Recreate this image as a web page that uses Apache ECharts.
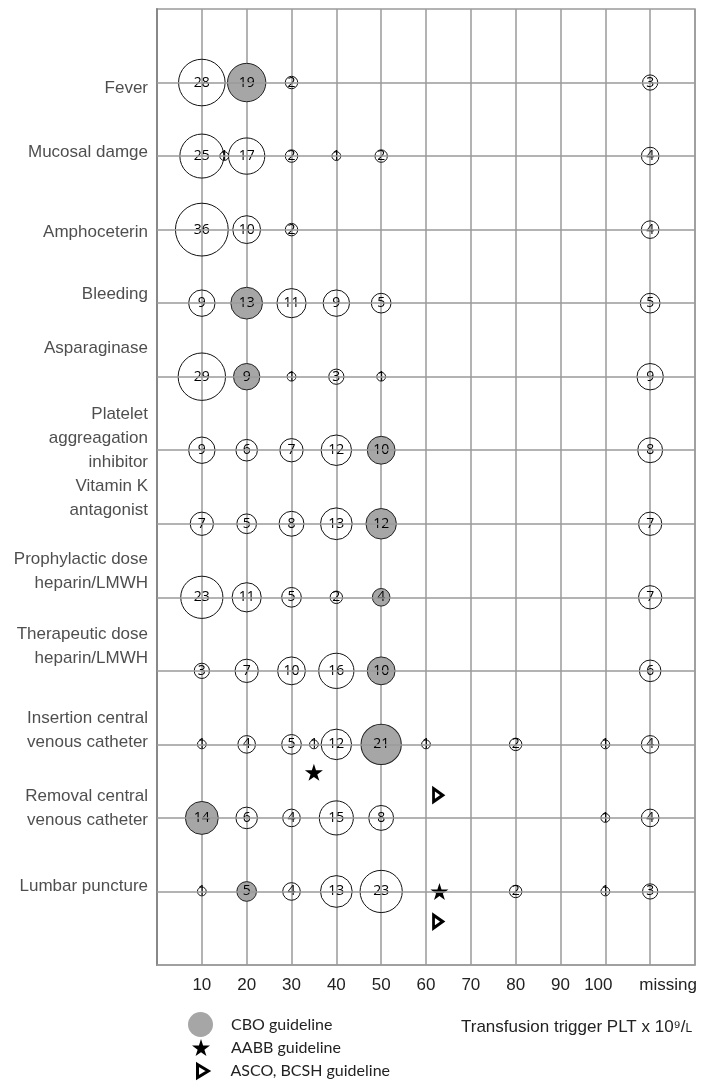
<!DOCTYPE html>
<html>
<head>
<meta charset="utf-8">
<script src="https://cdn.jsdelivr.net/npm/echarts@6/dist/echarts.min.js"></script>
<style>
html,body{margin:0;padding:0;background:#fff;}
#chart{width:707px;height:1081px;}
</style>
</head>
<body>
<div id="chart"></div>
<script>
// ---------- data ----------
const categories = [
  'Fever',
  'Mucosal damge',
  'Amphoceterin',
  'Bleeding',
  'Asparaginase',
  'Platelet\naggreagation\ninhibitor',
  'Vitamin K\nantagonist',
  'Prophylactic dose\nheparin/LMWH',
  'Therapeutic dose\nheparin/LMWH',
  'Insertion central\nvenous catheter',
  'Removal central\nvenous catheter',
  'Lumbar puncture'
];
const xTickLabels = [10, 20, 30, 40, 50, 60, 70, 80, 90, 100, 'missing'];
const missingPosition = 110;

// [transfusion trigger, number of respondents]
const fever        = [[10, 28], [20, 19], [30, 2], ['missing', 3]];
const mucosal      = [[10, 25], [15, 1], [20, 17], [30, 2], [40, 1], [50, 2], ['missing', 4]];
const amphotericin = [[10, 36], [20, 10], [30, 2], ['missing', 4]];
const bleeding     = [[10, 9], [20, 13], [30, 11], [40, 9], [50, 5], ['missing', 5]];
const asparaginase = [[10, 29], [20, 9], [30, 1], [40, 3], [50, 1], ['missing', 9]];
const plateletInh  = [[10, 9], [20, 6], [30, 7], [40, 12], [50, 10], ['missing', 8]];
const vitaminK     = [[10, 7], [20, 5], [30, 8], [40, 13], [50, 12], ['missing', 7]];
const prophylactic = [[10, 23], [20, 11], [30, 5], [40, 2], [50, 4], ['missing', 7]];
const therapeutic  = [[10, 3], [20, 7], [30, 10], [40, 16], [50, 10], ['missing', 6]];
const insertionCVC = [[10, 1], [20, 4], [30, 5], [35, 1], [40, 12], [50, 21], [60, 1], [80, 2], [100, 1], ['missing', 4]];
const removalCVC   = [[10, 14], [20, 6], [30, 4], [40, 15], [50, 8], [100, 1], ['missing', 4]];
const lumbar       = [[10, 1], [20, 5], [30, 4], [40, 13], [50, 23], [80, 2], [100, 1], ['missing', 3]];
const rowsData = [fever, mucosal, amphotericin, bleeding, asparaginase, plateletInh, vitaminK,
                  prophylactic, therapeutic, insertionCVC, removalCVC, lumbar];

// trigger recommended by the CBO guideline per row (null = none)
const cboTrigger = [20, null, null, 20, 20, 50, 50, 50, 50, 50, 10, 20];

// guideline markers [trigger, row position] (row position: Lumbar puncture = 1 ... Fever = 12)
const aabbGuideline = [[35, 2.62], [63, 1.0]];
const ascoBcshGuideline = [[62.7, 2.31], [62.7, 0.59]];

// ---------- layout tweaks (not data): vertical nudge of each row's name, px ----------
const rowLabelNudge = [6, -4, 3, -9, -28, -12, -25, -26, -25, -14, -10, -5];

// ---------- build ----------
const n = categories.length;
const rowY = i => n - i;
const xPos = t => (t === 'missing' ? missingPosition : t);

const plainPts = [], cboPts = [];
rowsData.forEach((row, i) => {
  row.forEach(([t, c]) => {
    const pt = [xPos(t), rowY(i), c];
    if (cboTrigger[i] !== null && t === cboTrigger[i]) cboPts.push(pt); else plainPts.push(pt);
  });
});

const sizeFn = v => 8.8 * Math.sqrt(v[2]);
const bubbleLabel = {
  show: true, position: 'inside', formatter: p => p.value[2],
  color: '#000', fontFamily: 'Open Sans', fontSize: 14, opacity: 1
};
const STAR = 'path://M50,0 L61,35 L98,35 L68,57 L79,91 L50,70 L21,91 L32,57 L2,35 L39,35 Z';
const TRI = 'path://M0,0 L10,6 L0,12 Z';

const nameData = categories.map((c, i) => ({
  value: [0, rowY(i)], name: c,
  label: { offset: [0, rowLabelNudge[i]] }
}));

const legendText = { fontFamily: 'Lato', fontSize: 16, color: '#222' };

const chart = echarts.init(document.getElementById('chart'), null, { renderer: 'canvas' });
chart.setOption({
  animation: false,
  grid: { left: 157, right: 12, top: 9, bottom: 116, show: true, borderColor: '#9a9a9a', borderWidth: 1.5 },
  xAxis: {
    type: 'value', min: 0, max: 120, interval: 10,
    axisLine: { show: true, lineStyle: { color: '#9a9a9a', width: 1.5 } },
    axisTick: { show: false },
    splitLine: { show: true, lineStyle: { color: '#9a9a9a', width: 1.5 } },
    axisLabel: {
      margin: 12, color: '#222', fontFamily: 'Liberation Sans', fontSize: 17,
      formatter: v => {
        if (v === missingPosition) return '{m|' + xTickLabels[xTickLabels.length - 1] + '}';
        if (v === 100) return '{h|100}';
        return xTickLabels.indexOf(v) >= 0 ? String(v) : '';
      },
      rich: {
        m: { fontFamily: 'Liberation Sans', fontSize: 17, color: '#222', padding: [0, 0, 0, 36] },
        h: { fontFamily: 'Liberation Sans', fontSize: 17, color: '#222', padding: [0, 14, 0, 0] }
      }
    }
  },
  yAxis: {
    type: 'value', min: 0, max: 13, interval: 1,
    axisLine: { show: true, lineStyle: { color: '#888', width: 2 } },
    axisTick: { show: false }, axisLabel: { show: false }, splitLine: { show: false }
  },
  title: {
    text: 'Transfusion trigger PLT x 10⁹/{s|L}',
    left: 461, top: 1019, padding: 0,
    textStyle: {
      fontFamily: 'Liberation Sans', fontSize: 17, fontWeight: 'normal', color: '#222',
      rich: { s: { fontFamily: 'Liberation Sans', fontSize: 12, color: '#222', padding: [3, 0, 0, 0] } }
    }
  },
  legend: [
    { data: [{ name: 'CBO guideline', icon: 'circle', itemStyle: { borderWidth: 0, color: '#a6a6a6' } }],
      left: 188, top: 1012, padding: 0, itemWidth: 25, itemHeight: 25, selectedMode: false,
      textStyle: Object.assign({ padding: [0, 0, 0, 13] }, legendText) },
    { data: [{ name: 'AABB guideline' }],
      left: 192, top: 1039, padding: 0, itemWidth: 18, itemHeight: 18, selectedMode: false,
      textStyle: Object.assign({ padding: [0, 0, 0, 16] }, legendText) },
    { data: [{ name: 'ASCO, BCSH guideline', itemStyle: { color: '#fff', borderColor: '#000', borderWidth: 3 } }],
      left: 196, top: 1063, padding: 0, itemWidth: 11, itemHeight: 13, selectedMode: false,
      textStyle: Object.assign({ padding: [0, 0, 0, 17] }, legendText) }
  ],
  series: [
    {
      name: 'rows', type: 'scatter', z: 1, silent: true,
      data: nameData, symbolSize: 0.01, itemStyle: { color: 'rgba(0,0,0,0)' },
      label: {
        show: true, position: 'left', distance: 9, formatter: p => p.name,
        color: '#222', fontFamily: 'Liberation Sans', fontSize: 17, lineHeight: 24,
        align: 'right', verticalAlign: 'middle'
      },
      markLine: {
        silent: true, symbol: ['none', 'none'], label: { show: false },
        lineStyle: { color: '#9a9a9a', width: 1.5, type: 'solid' },
        data: categories.map((c, i) => ({ yAxis: rowY(i) }))
      }
    },
    {
      name: 'Survey', type: 'scatter', z: 3, silent: true,
      data: plainPts, symbolSize: sizeFn,
      itemStyle: { color: 'rgba(255,255,255,0)', borderColor: '#111', borderWidth: 1, opacity: 1 },
      label: bubbleLabel
    },
    {
      name: 'CBO guideline', type: 'scatter', z: 3, silent: true,
      data: cboPts, symbolSize: sizeFn,
      itemStyle: { color: '#a6a6a6', borderColor: '#222', borderWidth: 1, opacity: 1 },
      label: bubbleLabel
    },
    {
      name: 'AABB guideline', type: 'scatter', z: 4, silent: true,
      data: aabbGuideline, symbol: STAR, symbolSize: 18, symbolKeepAspect: true,
      itemStyle: { color: '#000', opacity: 1 }
    },
    {
      name: 'ASCO, BCSH guideline', type: 'scatter', z: 4, silent: true,
      data: ascoBcshGuideline, symbol: TRI, symbolSize: [11, 13], symbolKeepAspect: true,
      itemStyle: { color: '#fff', borderColor: '#000', borderWidth: 3, opacity: 1 }
    }
  ]
});
</script>
</body>
</html>
